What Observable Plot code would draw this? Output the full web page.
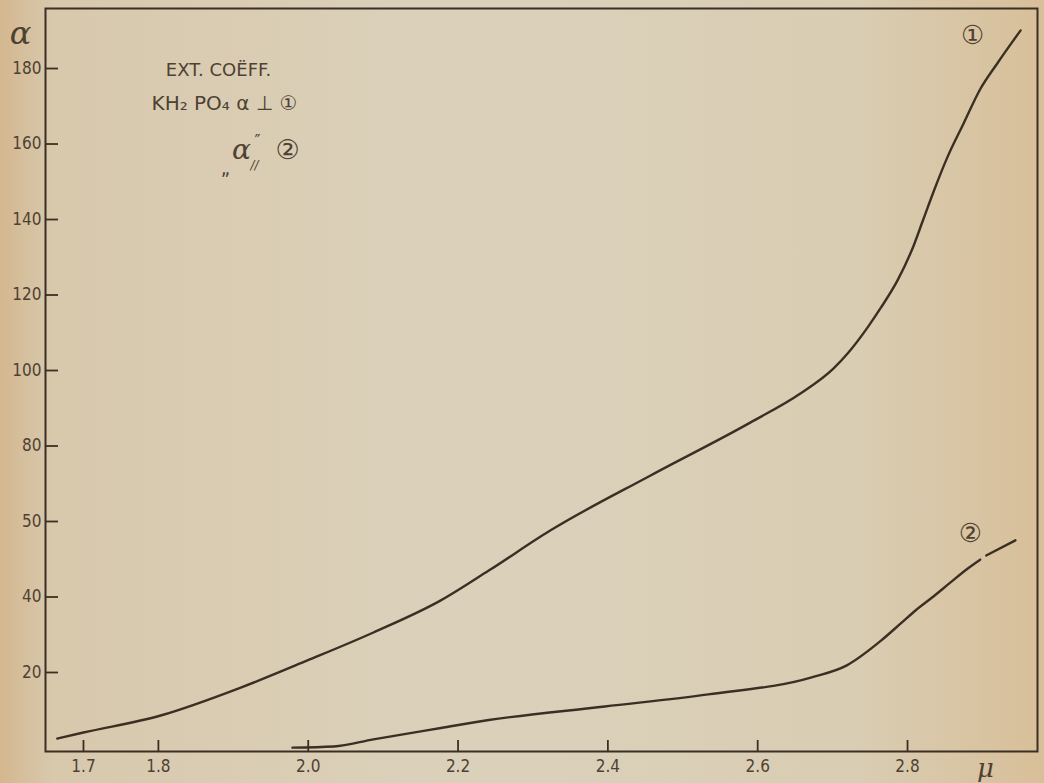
<!DOCTYPE html>
<html><head><meta charset="utf-8">
<script src="https://cdn.jsdelivr.net/npm/d3@7"></script>
<script src="https://cdn.jsdelivr.net/npm/@observablehq/plot@0.6"></script>
<style>
html,body{margin:0;padding:0;}
body{width:1044px;height:783px;overflow:hidden;
background:linear-gradient(90deg,#d3b78f 0%,#d8c9ad 5%,#dbd1bb 45%,#d9cdb3 82%,#d8bf99 100%);}
#chart svg{display:block;background:transparent;}
</style></head><body><div id="chart"></div>
<script>
// Axis ticks and labels (as printed; the 60 tick is lettered "50" in the original)
const xTicks = [1.7, 1.8, 2.0, 2.2, 2.4, 2.6, 2.8];
const xTickLabels = ["1.7", "1.8", "2.0", "2.2", "2.4", "2.6", "2.8"];
const yTicks = [20, 40, 60, 80, 100, 120, 140, 160, 180];
const yTickLabels = ["20", "40", "50", "80", "100", "120", "140", "160", "180"];

// Curve 1: α ⊥
const curve1X = [1.665,1.700,1.803,1.910,1.999,2.087,2.177,2.241,2.323,2.457,2.590,2.657,2.701,2.720,2.747,2.764,2.787,2.808,2.821,2.835,2.853,2.875,2.897,2.920,2.951];
const curve1Y = [2.5,4.1,8.6,16.0,23.2,30.6,39.1,47.0,57.6,72.2,86.2,93.9,100.5,104.5,111.5,116.5,124.0,133.0,140.0,147.5,156.4,165.5,174.5,181.4,190.1];

// Curve 2: α // (drawn with a small break near the end)
const curve2X = [1.979,2.034,2.087,2.177,2.241,2.396,2.534,2.672,2.719,2.765,2.791,2.811,2.835,2.857,2.880,2.897, 2.905,2.944];
const curve2Y = [0.1,0.4,2.3,5.3,7.4,11.0,14.2,18.7,21.9,28.5,33.0,36.5,40.2,43.8,47.5,49.9, 51.0,55.0];
const curve2Seg = ["a","a","a","a","a","a","a","a","a","a","a","a","a","a","a","a","b","b"];

const curveLabels = ["①", "②"];

const ink = "#3b2f24";
const textInk = "#4f4132";
const font = "'DejaVu Sans Condensed','Liberation Sans Narrow','DejaVu Sans',sans-serif";
const wideFont = "'DejaVu Sans',sans-serif";

const data1 = curve1X.map((x, i) => ({x, y: curve1Y[i]}));
const data2 = curve2X.map((x, i) => ({x, y: curve2Y[i], seg: curve2Seg[i]}));

const ann = (t, dx, dy, extra = {}) => Plot.text([t], {frameAnchor: "top-left", textAnchor: "middle", lineAnchor: "middle", dx, dy, fill: textInk, ...extra});

const chart = Plot.plot({
  width: 1044,
  height: 783,
  marginLeft: 45,
  marginRight: 7,
  marginTop: 8,
  marginBottom: 32,
  style: {background: "transparent", fontFamily: font, fontSize: "17px", color: textInk},
  x: {domain: [1.6493, 2.9735]},
  y: {domain: [-0.93, 195.9]},
  marks: [
    Plot.frame({stroke: ink, strokeWidth: 2}),
    // inward tick marks
    Plot.axisY({ticks: yTicks, anchor: "left", tickSize: 13, dx: 13, label: null, tickFormat: () => "", stroke: ink, strokeWidth: 1.8}),
    Plot.axisY({ticks: yTicks, anchor: "left", tickSize: 0, tickPadding: 4, label: null,
      tickFormat: d => yTickLabels[yTicks.indexOf(d)], fill: textInk, fontSize: 17}),
    Plot.axisX({ticks: xTicks, anchor: "bottom", tickSize: 11, dy: -11, label: null, tickFormat: () => "", stroke: ink, strokeWidth: 1.8}),
    Plot.axisX({ticks: xTicks, anchor: "bottom", tickSize: 0, tickPadding: 8, label: null,
      tickFormat: d => xTickLabels[xTicks.indexOf(d)], fill: textInk, fontSize: 17}),
    // curves
    Plot.line(data1, {x: "x", y: "y", curve: "monotone-x", stroke: ink, strokeWidth: 2.4}),
    Plot.line(data2, {x: "x", y: "y", z: "seg", curve: "monotone-x", stroke: ink, strokeWidth: 2.4}),
    // curve numbers
    Plot.text(data1, Plot.selectLast({x: "x", y: "y", text: () => curveLabels[0], dx: -48, dy: 5, fontSize: 26, fill: textInk, fontFamily: wideFont})),
    Plot.text(data2, Plot.selectLast({x: "x", y: "y", text: () => curveLabels[1], dx: -45, dy: -7, fontSize: 26, fill: textInk, fontFamily: wideFont})),
    // axis symbols
    ann("α", -25, 25, {fontSize: 32, fontStyle: "italic", fontFamily: "'DejaVu Serif',serif"}),
    Plot.text(["μ"], {frameAnchor: "bottom-right", textAnchor: "middle", lineAnchor: "middle", dx: -52, dy: 17, fontSize: 26, fontStyle: "italic", fontFamily: "'DejaVu Serif',serif", fill: textInk}),
    // legend annotation
    ann("EXT. COËFF.", 173, 62, {fontSize: 18, fontFamily: wideFont}),
    ann("KH₂ PO₄ α ⊥ ①", 179, 95, {fontSize: 20, fontFamily: wideFont}),
    ann("„", 180, 160, {fontSize: 20}),
    ann("α", 196, 142, {fontSize: 28, fontFamily: "'DejaVu Serif',serif", fontStyle: "italic"}),
    ann("″", 212, 133, {fontSize: 18}),
    ann("//", 209, 156, {fontSize: 13, fontStyle: "italic"}),
    ann("②", 242, 142, {fontSize: 27, fontFamily: wideFont})
  ]
});
document.getElementById("chart").appendChild(chart);
</script>
</body></html>
